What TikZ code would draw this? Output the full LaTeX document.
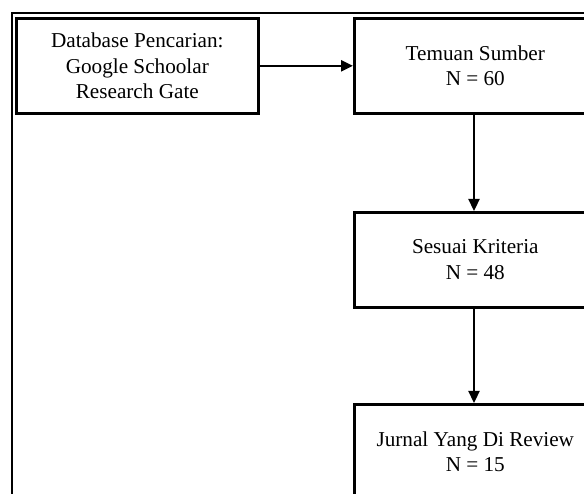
\documentclass[tikz,border=0pt]{standalone}
\usepackage{fontspec}
\setmainfont{Liberation Serif}
\usetikzlibrary{arrows.meta}
\begin{document}
\begin{tikzpicture}[x=1pt,y=-1pt,
  box/.style={draw=black,line width=2.6pt,minimum width=242pt,minimum height=95pt,
    align=center,inner sep=0pt,font=\fontsize{21.2}{25.5}\selectfont,anchor=north west},
  conn/.style={line width=2.3pt,-{Triangle[length=12pt,width=11pt]}}]
\useasboundingbox (0,0) rectangle (584,494);
\clip (0,0) rectangle (584,494);
\fill[white] (0,0) rectangle (584,494);
\draw[line width=2pt] (12,13) rectangle (620,530);
\node[box] (src) at (15,17) {Database Pencarian:\\Google Schoolar\\Research Gate};
\node[box] (found) at (353,17) {Temuan Sumber\\N = 60};
\node[box] (crit) at (353,211) {Sesuai Kriteria\\N = 48};
\node[box] (rev) at (353,403) {Jurnal Yang Di Review\\N = 15};
\draw[conn] (src.east) -- (found.west);
\draw[conn] (found.south -| 474,0) -- (crit.north -| 474,0);
\draw[conn] (crit.south -| 474,0) -- (rev.north -| 474,0);
\end{tikzpicture}
\end{document}
